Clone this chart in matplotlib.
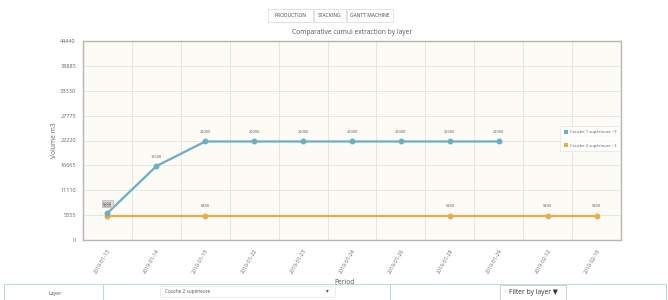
import matplotlib
matplotlib.use("Agg")
import matplotlib.pyplot as plt
from matplotlib.patches import Rectangle, Patch
from matplotlib.lines import Line2D

plt.rcParams['font.family'] = ['Open Sans', 'DejaVu Sans']

periods = ["2019-01-13", "2019-01-14", "2019-01-15", "2019-01-22", "2019-01-23",
           "2019-01-24", "2019-01-26", "2019-01-28", "2019-01-29", "2019-02-12", "2019-02-16"]
layer1_periods = ["2019-01-13", "2019-01-14", "2019-01-15", "2019-01-22", "2019-01-23",
                  "2019-01-24", "2019-01-26", "2019-01-28", "2019-01-29"]
layer1_values = [6000, 16500, 22000, 22000, 22000, 22000, 22000, 22000, 22000]
layer2_periods = ["2019-01-13", "2019-01-15", "2019-01-28", "2019-02-12", "2019-02-16"]
layer2_values = [5400, 5400, 5400, 5400, 5400]
yticks = [0, 5555, 11110, 16665, 22220, 27775, 33330, 38885, 44440]
legend_labels = ["Couche 1 supérieure : 9", "Couche 2 supérieure : 3"]

c1 = "#6aafc1"
c2 = "#e6ad4c"

fig = plt.figure(figsize=(6.68, 3.0), dpi=100)
fig.patch.set_facecolor("white")
ax = fig.add_axes([83/668, 60/300, 538/668, 199/300])
ax.set_facecolor("#fcfbf6")

x1 = [periods.index(p) for p in layer1_periods]
x2 = [periods.index(p) for p in layer2_periods]

ax.plot(x2, layer2_values, color=c2, lw=1.6, marker="o", ms=3.2, zorder=3)
ax.plot(x1, layer1_values, color=c1, lw=1.6, marker="o", ms=3.2, zorder=4)

for i, (x, v) in enumerate(zip(x1, layer1_values)):
    if i == 0:
        ax.text(x, v + 1700, f"{v}", fontsize=2.8, ha="center", va="bottom", color="#444",
                bbox=dict(boxstyle="square,pad=0.3", fc="#dddddd", ec="#aaaaaa", lw=0.4), zorder=5)
    else:
        ax.text(x, v + 1700, f"{v}", fontsize=2.8, ha="center", va="bottom", color="#555", zorder=5)
for x, v in zip(x2, layer2_values):
    ax.text(x, v + 1700, f"{v}", fontsize=2.8, ha="center", va="bottom", color="#555", zorder=5)

ax.set_xlim(-0.5, len(periods) - 0.5)
ax.set_ylim(0, 44440)
ax.set_yticks(yticks)
ax.set_yticklabels([str(t) for t in yticks], fontsize=4, color="#666")
ax.set_xticks(range(len(periods)))
ax.set_xticklabels(periods, rotation=60, ha="right", rotation_mode="anchor", fontsize=3.8, color="#666")
ax.set_xticks([i - 0.5 for i in range(1, len(periods))], minor=True)
ax.tick_params(axis="x", which="both", length=0, pad=6)
ax.tick_params(axis="y", length=0, pad=5)
ax.grid(axis="y", color="#e2e2e2", lw=0.6)
ax.grid(axis="x", which="minor", color="#e2e2e2", lw=0.6)
for s in ax.spines.values():
    s.set_color("#b5b5b5")
    s.set_linewidth(1.0)

ax.set_ylabel("Volume m3", fontsize=4.8, color="#666", labelpad=6)
ax.set_xlabel("Period", fontsize=4.8, color="#555", labelpad=2)
ax.xaxis.set_label_coords((345 - 83) / 538, (240 - 279) / 199)
ax.yaxis.set_label_coords((58 - 83) / 538, 0.5)

handles = [Patch(facecolor=c1, edgecolor="none"), Patch(facecolor=c2, edgecolor="none")]
leg = ax.legend(handles, legend_labels, loc="upper left",
                bbox_to_anchor=((558 - 83) / 538, (240 - 124) / 199),
                fontsize=3, frameon=True, handlelength=1.0, handleheight=1.0,
                labelspacing=2.2, borderpad=0.9, handletextpad=0.5)
leg.get_frame().set_edgecolor("#dddddd")
leg.get_frame().set_linewidth(0.5)
leg.get_frame().set_facecolor("white")
for t in leg.get_texts():
    t.set_color("#555")

# Title
fig.text(352 / 668, 1 - 32 / 300, "Comparative cumul extraction by layer", fontsize=4.8,
         ha="center", va="center", color="#555")

# Tabs
tabs = [("PRODUCTION", 268, 313), ("STACKING", 314, 346), ("GANTT MACHINE", 347, 393)]
for label, x0, x1b in tabs:
    fig.patches.append(Rectangle((x0 / 668, 1 - 22 / 300), (x1b - x0) / 668, 13 / 300,
                                 transform=fig.transFigure, fc="white", ec="#dddddd", lw=0.6))
    fig.text((x0 + x1b) / 2 / 668, 1 - 15.5 / 300, label, fontsize=3.6, ha="center",
             va="center", color="#444")

# Bottom table
fig.add_artist(Line2D([4 / 668, 666 / 668], [1 - 284 / 300] * 2, transform=fig.transFigure,
                      color="#b8d8dc", lw=0.7))
for xv in [4, 103, 390, 666]:
    fig.add_artist(Line2D([xv / 668] * 2, [0, 1 - 284 / 300], transform=fig.transFigure,
                          color="#b8d8dc", lw=0.7))
fig.text(55 / 668, 1 - 293 / 300, "Layer", fontsize=3.8, ha="center", va="center", color="#555")
fig.patches.append(Rectangle((160 / 668, 1 - 297 / 300), 175 / 668, 11 / 300,
                             transform=fig.transFigure, fc="white", ec="#e6e6e6", lw=0.5))
fig.text(165 / 668, 1 - 291.5 / 300, "Couche 2 supérieure", fontsize=3.4, ha="left",
         va="center", color="#555")
fig.text(327 / 668, 1 - 291 / 300, "\u25BE", fontsize=4, ha="center", va="center", color="#555")
fig.patches.append(Rectangle((500 / 668, 1 - 301 / 300), 66 / 668, 16 / 300,
                             transform=fig.transFigure, fc="white", ec="#cccccc", lw=0.6))
fig.text(533 / 668, 1 - 293 / 300, "Filter by layer \u25BC", fontsize=4.8, ha="center",
         va="center", color="#333")

fig.savefig("out.png", dpi=100)
